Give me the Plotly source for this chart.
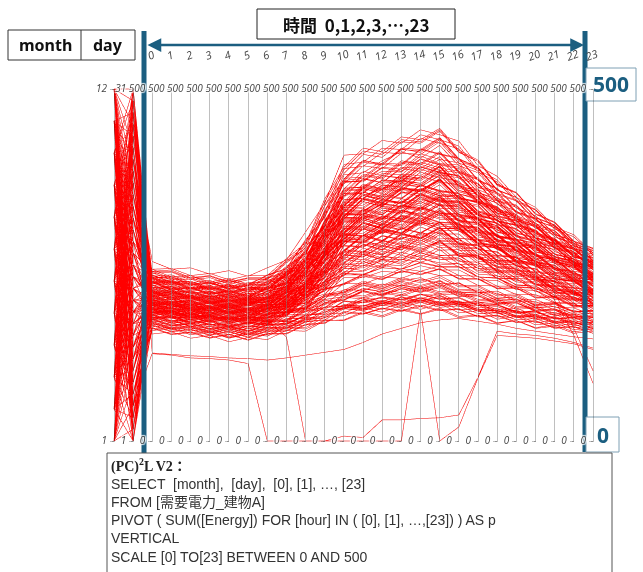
import plotly.graph_objects as go

# ---------------- data ----------------
# one row per day: (month, day, energy for hours 0..23)
rows = [
 (1,2,  [175,176,173,166,164,168,171,169,176,190,191,201,203,198,208,207,196,197,194,184,180,183,173,175]),
 (1,4,  [231,219,215,217,214,206,219,236,251,305,331,349,358,371,362,384,366,339,331,318,289,279,269,243]),
 (1,6,  [208,212,205,196,199,202,198,211,246,270,318,317,322,340,331,349,322,318,305,281,274,252,247,235]),
 (1,8,  [193,189,179,182,174,179,183,182,190,208,211,224,217,228,232,220,225,211,213,200,201,190,189,179]),
 (1,10, [244,233,235,224,229,221,236,245,286,317,378,381,398,411,402,420,391,381,350,341,312,305,278,268]),
 (1,12, [215,219,206,211,208,200,213,225,241,290,319,344,335,352,358,348,349,323,318,292,285,261,256,235]),
 (1,14, [236,224,227,216,221,219,218,241,258,311,357,355,366,370,389,381,377,349,341,315,306,282,272,249]),
 (1,16, [181,184,175,179,170,176,172,184,186,201,205,216,212,221,216,222,210,211,200,202,190,191,180,181]),
 (1,18, [211,200,204,199,191,196,202,206,238,257,302,304,319,316,331,323,320,299,293,271,266,245,240,221]),
 (1,20, [232,233,222,225,217,223,228,238,272,306,367,370,383,382,401,393,389,360,351,324,315,290,279,255]),
 (1,22, [227,215,217,209,213,204,217,223,256,296,326,349,344,360,357,371,346,340,323,299,292,269,261,240]),
 (1,24, [194,197,187,190,182,187,185,201,208,239,252,270,264,279,272,283,266,263,246,244,227,224,208,205]),
 (1,26, [219,209,211,202,206,199,210,215,246,271,321,322,336,333,349,340,338,316,309,286,280,258,251,232]),
 (1,28, [225,227,216,220,211,217,215,236,254,304,338,361,357,373,370,385,359,352,327,318,294,285,262,253]),
 (1,30, [176,167,170,162,166,159,168,167,179,180,194,192,200,196,204,197,199,189,191,181,183,174,176,166]),
 (2,1,  [218,220,210,213,204,210,209,229,244,294,324,349,341,360,354,370,344,339,312,307,283,276,253,246]),
 (2,3,  [239,229,230,221,226,217,231,239,276,306,369,368,388,383,405,394,392,361,353,325,317,290,281,256]),
 (2,5,  [178,181,171,175,167,172,169,182,183,199,201,214,207,219,212,220,206,209,196,199,186,188,177,178]),
 (2,7,  [217,207,209,200,204,196,208,213,245,266,317,317,333,327,346,335,335,311,306,282,277,255,249,229]),
 (2,9,  [202,204,194,197,189,194,193,211,223,264,287,310,301,320,313,328,305,303,279,276,254,249,229,225]),
 (2,11, [172,163,166,158,162,155,164,163,175,177,193,189,198,193,203,195,197,186,188,178,180,170,172,163]),
 (2,13, [226,228,217,221,212,218,216,239,256,309,340,365,358,378,372,390,362,356,329,322,296,288,264,256]),
 (2,15, [221,211,212,204,208,200,213,218,251,275,327,327,343,337,356,345,344,320,314,290,283,261,254,233]),
 (2,17, [240,241,231,234,225,231,230,255,274,334,372,399,392,415,410,428,398,387,356,346,318,307,281,271]),
 (2,19, [202,192,195,186,190,182,194,196,224,242,287,285,301,295,312,302,303,281,277,257,253,233,229,210]),
 (2,21, [183,186,176,180,172,177,174,187,188,205,208,221,214,225,219,227,213,214,202,205,192,194,183,184]),
 (2,23, [214,204,206,197,201,193,205,210,241,262,312,311,328,322,340,330,330,306,301,278,273,252,246,226]),
 (2,25, [221,223,213,216,207,212,212,232,248,299,330,354,346,366,361,377,351,345,319,313,288,280,257,250]),
 (2,27, [235,225,227,218,222,213,226,234,270,300,359,360,377,373,393,385,381,353,344,318,309,284,275,251]),
 (2,28, [203,205,195,199,190,196,194,212,224,265,288,311,303,321,315,330,306,304,280,277,255,250,230,226]),
 (3,1,  [204,194,197,188,192,184,195,199,228,246,292,291,307,300,317,307,308,285,281,260,256,236,232,213]),
 (3,3,  [211,213,202,206,197,203,202,221,234,280,306,329,322,340,334,349,325,321,296,292,268,263,241,237]),
 (3,5,  [179,169,172,164,168,161,170,170,184,187,204,202,210,206,215,208,209,197,198,187,189,178,179,169]),
 (3,7,  [193,195,186,189,180,186,185,202,212,251,271,293,285,303,295,310,288,286,264,262,241,238,218,215]),
 (3,9,  [225,214,217,208,212,203,216,222,256,281,334,335,351,345,364,355,352,327,320,296,289,266,259,238]),
 (3,11, [186,188,179,183,173,179,178,195,203,240,258,279,271,288,281,296,274,273,251,250,230,228,209,207]),
 (3,13, [168,159,162,154,158,151,160,160,173,175,191,188,196,193,200,193,195,184,186,176,178,168,170,160]),
 (3,15, [205,207,196,200,191,197,196,214,226,269,294,316,309,327,320,336,312,309,285,281,258,253,232,228]),
 (3,17, [219,209,211,202,207,198,210,215,248,270,322,322,338,333,351,341,340,316,310,287,281,259,253,232]),
 (3,19, [182,184,174,178,169,175,173,190,197,232,248,268,260,277,270,285,264,263,242,242,223,221,203,202]),
 (3,21, [174,165,168,160,164,157,166,166,179,182,198,196,204,200,208,201,203,192,193,182,184,173,175,165]),
 (3,23, [200,202,193,196,187,193,192,210,221,263,286,309,301,319,312,327,304,302,278,275,253,249,228,225]),
 (3,25, [201,191,193,185,189,181,192,195,225,242,287,285,301,295,312,302,303,280,277,256,252,233,229,210]),
 (3,27, [208,210,200,203,194,200,199,218,231,275,300,323,316,334,328,343,319,316,291,287,264,259,237,233]),
 (3,29, [183,174,176,168,173,165,175,177,201,213,252,248,263,257,274,263,265,245,244,226,224,207,205,188]),
 (3,31, [192,194,184,188,179,185,183,200,209,246,264,285,277,295,288,303,281,279,257,256,236,233,214,212]),
 (4,2,  [190,180,183,174,179,171,181,185,211,227,270,268,284,278,295,285,286,265,261,242,239,220,217,199]),
 (4,4,  [157,160,151,155,147,152,149,162,161,176,178,189,183,193,187,195,182,185,173,177,165,168,158,161]),
 (4,6,  [197,187,190,181,186,178,189,192,220,239,284,282,298,292,309,299,299,277,274,253,249,230,226,207]),
 (4,8,  [174,177,167,171,162,168,166,183,189,224,239,259,251,268,261,276,255,254,234,234,215,214,196,195]),
 (4,10, [202,192,194,186,191,182,193,197,226,246,294,292,308,303,320,311,310,287,283,262,257,238,233,214]),
 (4,12, [162,165,156,160,151,157,154,167,168,184,187,198,192,202,196,204,191,193,181,183,172,175,164,166]),
 (4,14, [187,178,180,172,176,168,179,182,207,222,264,261,277,271,288,278,279,258,255,236,233,215,212,194]),
 (4,16, [187,189,179,183,174,180,178,196,204,243,263,285,277,295,289,304,281,279,257,255,234,231,212,209]),
 (4,18, [207,197,199,190,195,187,198,202,232,253,302,301,317,312,330,320,319,296,291,269,264,243,238,219]),
 (4,20, [169,172,163,167,158,164,161,174,174,190,192,204,198,208,202,210,197,198,186,189,177,180,169,171]),
 (4,22, [184,174,177,168,173,165,175,178,203,217,258,254,270,264,281,271,272,252,249,231,229,211,209,191]),
 (4,24, [190,192,183,186,177,183,181,199,209,249,270,292,284,302,296,311,288,286,263,261,240,236,217,214]),
 (4,26, [160,151,154,146,151,143,152,152,165,167,182,180,188,184,191,185,187,176,178,168,170,160,162,153]),
 (4,28, [173,176,166,170,161,167,165,181,187,221,235,255,247,264,257,272,251,251,231,231,212,211,193,192]),
 (4,30, [165,156,159,151,156,148,157,157,170,172,188,186,193,189,197,190,192,181,183,172,174,164,166,156]),
 (5,1,  [165,168,159,163,154,160,157,170,170,186,188,200,194,204,198,206,193,195,183,185,174,176,166,168]),
 (5,3,  [161,152,155,147,152,144,153,153,166,168,184,181,189,185,193,186,188,177,179,169,171,161,163,153]),
 (5,5,  [159,162,153,157,148,154,151,164,164,180,182,193,187,197,191,199,186,188,176,179,168,171,161,163]),
 (5,7,  [188,178,181,172,177,169,180,183,209,225,268,265,281,275,293,283,283,262,258,239,236,217,214,196]),
 (5,9,  [193,195,185,189,180,185,184,202,213,255,278,301,294,313,308,324,300,297,273,270,248,244,224,221]),
 (5,11, [192,182,185,176,181,173,184,187,214,232,277,275,291,286,304,294,294,272,268,248,244,225,221,203]),
 (5,13, [200,202,192,196,186,192,191,210,223,269,296,320,314,334,330,346,321,315,290,286,263,257,236,232]),
 (5,15, [169,160,163,155,160,152,161,161,174,177,193,191,199,195,203,196,198,187,188,177,179,169,170,160]),
 (5,17, [175,178,168,172,163,169,167,184,191,228,245,266,258,276,270,285,263,262,241,241,222,220,202,200]),
 (5,19, [195,185,188,179,184,176,187,191,220,241,289,288,305,300,319,310,309,286,281,260,255,235,231,212]),
 (5,21, [197,199,189,193,184,189,188,207,219,264,290,314,307,327,322,338,313,309,285,281,258,253,232,228]),
 (5,23, [173,164,167,159,164,156,165,165,179,182,199,197,205,201,209,202,204,193,193,183,184,174,175,165]),
 (5,25, [183,185,176,179,170,176,174,192,201,240,261,283,275,294,288,303,280,278,256,254,234,231,212,210]),
 (5,27, [208,198,200,191,196,188,199,205,236,261,313,314,331,327,347,339,336,311,304,282,276,254,249,228]),
 (5,29, [179,182,172,176,167,173,171,188,196,234,253,274,266,284,278,293,271,270,248,247,228,226,207,205]),
 (5,31, [194,184,187,178,183,175,185,189,217,236,283,281,297,292,311,302,301,279,274,254,250,230,227,208]),
 (6,2,  [195,197,188,191,182,188,187,206,218,263,290,314,307,327,322,338,313,309,284,280,258,253,232,229]),
 (6,4,  [212,202,204,195,200,192,203,209,242,269,323,325,343,339,359,351,348,322,315,292,285,262,256,235]),
 (6,6,  [172,175,166,170,161,167,164,177,178,196,200,212,206,216,211,218,205,206,194,196,184,186,175,177]),
 (6,8,  [219,209,211,202,207,199,210,217,251,281,338,340,358,355,376,368,364,336,328,304,296,273,266,244]),
 (6,10, [199,201,192,195,186,192,191,210,223,269,297,321,315,335,330,347,321,316,291,286,263,258,236,232]),
 (6,12, [225,215,217,208,213,205,216,223,258,290,349,352,371,368,389,381,376,347,338,313,305,281,273,250]),
 (6,14, [180,183,173,177,168,174,171,185,187,206,212,225,219,230,225,232,219,219,206,207,194,196,184,185]),
 (6,16, [198,188,191,182,187,179,190,195,224,246,295,295,312,307,326,317,316,292,287,266,261,240,236,216]),
 (6,18, [209,211,201,204,195,201,200,220,236,286,318,343,337,357,354,371,345,338,312,306,282,275,253,247]),
 (6,20, [179,170,173,165,170,162,171,171,185,190,208,206,214,211,219,212,213,201,202,191,192,181,182,172]),
 (6,22, [202,204,195,198,189,195,194,213,227,274,303,327,321,341,337,354,328,323,297,292,269,263,241,237]),
 (6,24, [222,212,214,205,210,202,213,220,255,285,343,345,364,361,382,374,369,341,333,308,300,277,269,247]),
 (6,26, [197,199,190,193,184,190,189,208,221,267,295,319,312,332,327,343,318,314,289,285,262,257,236,232]),
 (6,28, [189,180,182,174,179,171,181,183,200,209,232,232,241,239,249,243,243,229,228,215,214,201,200,188]),
 (6,30, [210,212,202,205,196,202,201,221,237,287,319,345,339,359,356,373,346,339,313,307,283,276,254,248]),
 (7,1,  [232,222,224,215,220,212,224,232,269,305,370,373,393,391,414,407,401,370,358,331,320,293,284,259]),
 (7,3,  [238,240,229,232,223,229,229,253,274,335,380,407,403,425,423,440,410,397,364,353,323,311,284,274]),
 (7,5,  [201,192,194,186,191,183,193,194,211,221,245,246,256,254,264,258,257,242,240,226,224,210,208,195]),
 (7,7,  [232,234,223,226,217,223,223,246,266,326,369,396,392,414,412,430,400,388,356,346,317,306,280,270]),
 (7,9,  [227,217,219,210,215,207,218,226,261,294,356,358,377,374,396,388,383,353,342,316,307,282,274,251]),
 (7,11, [244,245,235,238,229,235,235,259,281,344,389,416,411,432,428,444,413,399,365,353,323,311,284,274]),
 (7,13, [205,195,198,189,194,186,196,198,215,226,251,252,262,260,270,264,263,248,245,231,229,214,212,199]),
 (7,15, [213,215,205,208,199,205,204,225,241,293,328,353,348,369,366,383,356,347,320,314,289,281,258,252]),
 (7,17, [241,231,232,223,228,220,232,241,280,319,387,390,410,408,430,423,415,382,368,340,328,301,290,264]),
 (7,19, [209,211,201,204,195,201,200,220,236,286,319,344,338,358,355,372,345,338,312,306,282,275,252,247]),
 (7,21, [233,223,225,216,221,213,224,233,269,304,368,370,389,386,408,400,395,364,353,326,316,290,281,257]),
 (7,23, [193,196,186,190,181,187,185,199,203,226,236,250,246,258,254,262,247,246,231,230,215,214,200,200]),
 (7,25, [255,244,246,237,242,234,246,257,297,338,406,408,427,423,442,435,426,391,376,346,332,304,293,267]),
 (7,27, [217,219,209,212,203,209,208,229,246,299,335,360,355,376,374,391,363,354,326,318,294,286,262,256]),
 (7,29, [236,226,227,218,223,215,227,235,272,308,373,375,395,393,415,408,402,371,359,331,320,294,284,259]),
 (7,31, [224,226,216,219,210,216,215,237,254,309,346,372,367,389,387,404,376,366,336,327,302,293,268,261]),
 (8,2,  [229,219,221,212,217,209,220,228,264,297,359,361,380,378,400,392,387,357,346,320,310,285,277,253]),
 (8,4,  [241,243,232,235,226,232,232,256,278,340,385,412,407,428,425,442,411,397,363,352,322,310,283,273]),
 (8,6,  [195,186,188,180,185,177,187,188,204,213,236,236,246,244,254,248,248,233,231,218,217,204,202,190]),
 (8,8,  [234,236,225,228,219,225,225,248,268,328,371,398,394,416,414,431,401,389,357,346,317,306,280,270]),
 (8,10, [221,211,213,204,209,201,212,219,253,284,343,344,363,360,382,374,369,340,332,307,299,275,268,246]),
 (8,12, [205,208,198,201,192,198,196,211,216,241,254,269,265,278,275,283,267,264,247,245,229,227,211,211]),
 (8,14, [202,193,195,187,192,184,194,195,212,223,248,249,258,257,267,261,260,245,242,228,226,212,210,197]),
 (8,16, [211,213,203,206,197,203,202,223,239,290,324,349,343,364,361,378,351,343,316,310,285,278,255,249]),
 (8,18, [244,233,235,226,231,223,235,245,284,324,393,396,416,414,435,428,419,385,371,342,329,301,290,265]),
 (8,20, [225,227,216,219,210,216,216,238,256,312,351,377,372,394,392,409,381,371,341,332,305,296,271,263]),
 (8,22, [214,204,206,197,202,194,205,211,245,273,329,330,348,344,364,356,352,325,318,295,288,265,259,237]),
 (8,24, [231,233,222,225,216,222,222,245,264,323,365,391,387,409,407,425,395,384,352,342,314,303,277,268]),
 (8,26, [207,197,200,191,196,188,199,204,236,262,316,316,334,330,350,342,339,313,306,284,278,256,250,230]),
 (8,28, [218,220,210,213,204,210,209,231,247,301,337,363,358,379,377,394,366,357,328,320,295,287,263,256]),
 (8,30, [198,188,191,182,187,179,189,190,207,217,241,241,251,249,259,253,252,237,235,222,220,207,205,193]),
 (8,31, [215,217,207,210,201,207,206,227,244,297,333,358,353,374,372,389,361,352,324,316,292,284,261,255]),
 (9,1,  [226,216,218,209,214,206,217,224,259,290,351,352,371,369,390,382,377,348,338,313,304,280,272,249]),
 (9,3,  [207,209,199,202,193,199,198,218,233,283,315,340,334,354,351,368,341,335,308,302,279,272,250,245]),
 (9,5,  [186,177,179,171,176,168,178,179,194,202,224,223,233,231,241,235,235,221,220,208,208,196,195,183]),
 (9,7,  [213,215,205,208,199,205,204,225,241,292,326,351,346,367,364,381,354,346,319,312,288,281,258,252]),
 (9,9,  [204,194,197,188,193,185,196,201,232,257,311,311,328,324,344,336,333,308,301,279,273,252,247,227]),
 (9,11, [227,229,218,221,212,218,218,240,258,314,353,379,374,396,394,411,382,372,342,334,307,298,273,265]),
 (9,13, [180,171,173,165,170,162,172,172,187,194,215,214,223,220,230,224,224,211,210,198,198,186,186,175]),
 (9,15, [202,204,195,198,189,195,194,213,227,275,306,330,324,344,340,357,331,325,299,294,271,266,244,239]),
 (9,17, [196,186,189,180,185,177,188,192,221,243,293,292,309,305,324,315,314,290,285,264,259,239,235,215]),
 (9,19, [183,186,176,180,171,177,175,190,193,215,224,237,233,245,241,249,235,234,220,220,206,206,192,193]),
 (9,21, [211,201,203,194,199,191,202,207,240,267,323,323,341,337,357,349,346,320,313,290,283,261,255,234]),
 (9,23, [169,172,162,166,157,163,161,174,175,194,200,213,208,219,214,222,208,209,196,197,184,186,173,176]),
 (9,25, [200,190,193,184,189,181,192,196,226,249,300,300,317,313,332,323,322,297,292,270,265,244,240,220]),
 (9,27, [210,212,202,205,196,202,201,221,236,287,320,345,339,359,356,373,346,339,313,306,283,276,253,248]),
 (9,29, [192,183,185,177,182,174,184,188,216,236,285,283,300,295,314,305,304,281,276,255,251,231,228,209]),
 (10,2, [184,186,177,180,171,177,175,193,201,240,261,283,275,293,287,302,279,277,255,252,233,230,210,208]),
 (10,4, [164,155,158,150,155,147,156,156,169,172,188,185,193,189,197,190,192,181,182,172,174,164,166,156]),
 (10,6, [176,178,169,172,163,169,167,184,191,227,245,265,257,275,268,283,262,261,240,239,221,219,201,200]),
 (10,8, [196,186,189,180,185,177,188,191,219,238,285,283,299,294,312,302,302,279,275,255,251,231,227,209]),
 (10,10,[165,168,159,163,154,160,157,170,170,186,189,201,195,205,199,206,194,196,184,186,175,177,167,169]),
 (10,12,[177,168,170,162,167,159,169,171,195,207,246,242,258,251,268,258,260,240,239,221,220,203,201,185]),
 (10,14,[196,198,189,192,183,189,188,206,217,259,283,306,298,317,311,327,303,300,276,272,251,247,227,224]),
 (10,16,[186,176,179,170,175,167,177,180,206,222,265,262,278,272,290,280,281,259,256,237,234,216,213,195]),
 (10,18,[152,155,146,150,141,147,144,157,156,171,172,184,178,188,181,189,177,179,168,171,160,163,153,156]),
 (10,20,[193,183,186,177,182,174,184,188,215,233,278,276,292,286,304,294,294,272,269,249,245,226,223,204]),
 (10,22,[200,202,193,196,187,193,192,210,222,266,291,314,306,325,319,335,311,307,283,279,258,253,232,228]),
 (10,24,[173,164,166,158,163,155,165,167,190,201,239,235,250,244,261,250,252,233,232,215,214,197,196,180]),
 (10,26,[182,184,175,178,169,175,173,191,199,238,258,280,272,290,284,299,276,274,252,250,231,228,209,207]),
 (10,28,[167,158,161,153,158,150,159,159,172,175,191,189,197,193,201,194,196,185,186,176,177,167,169,159]),
 (10,30,[193,195,186,189,180,186,185,203,214,256,279,302,294,312,306,322,298,295,272,268,248,244,224,221]),
 (10,31,[184,175,177,169,174,166,176,179,204,219,261,257,273,267,285,275,276,255,253,234,232,214,211,194]),
 (11,1, [188,190,181,184,175,181,180,197,207,248,269,291,283,302,295,311,288,285,263,260,240,236,217,214]),
 (11,3, [173,164,167,159,164,156,165,165,178,182,199,197,205,201,209,202,204,193,194,183,185,174,176,166]),
 (11,5, [195,197,188,191,182,188,187,205,216,258,282,304,296,315,309,324,301,298,275,271,250,246,226,223]),
 (11,7, [207,197,200,191,196,188,199,203,233,255,305,304,320,315,333,324,323,299,294,272,267,246,241,221]),
 (11,9, [174,177,168,172,163,169,166,179,180,197,200,212,206,217,211,218,205,207,195,197,185,187,176,178]),
 (11,11,[189,179,182,173,178,170,180,184,210,227,272,269,285,280,297,287,288,266,263,243,240,221,218,200]),
 (11,13,[206,208,198,201,192,198,197,216,229,274,301,324,317,336,330,346,321,317,292,287,265,260,238,234]),
 (11,15,[198,188,191,182,187,179,190,193,222,241,288,286,302,296,314,305,304,282,278,257,253,233,229,211]),
 (11,17,[178,181,172,176,167,173,170,183,184,201,205,217,212,222,217,224,211,212,199,201,189,191,180,181]),
 (11,19,[215,205,207,198,203,195,206,212,244,269,321,321,338,333,352,343,341,316,310,287,281,259,253,232]),
 (11,21,[197,199,190,193,184,190,189,207,219,262,287,310,302,321,315,330,307,303,279,275,254,249,229,225]),
 (11,23,[179,170,173,165,170,162,171,171,185,189,206,204,212,208,217,210,211,199,200,189,190,179,180,170]),
 (11,25,[212,214,204,207,198,204,203,223,238,286,316,340,333,353,348,364,339,333,307,301,278,272,249,244]),
 (11,27,[206,196,199,190,195,187,198,202,233,255,305,304,320,315,333,324,323,299,294,272,267,246,241,221]),
 (11,29,[182,185,175,179,170,176,174,187,188,206,210,222,216,227,221,228,215,216,203,205,193,195,183,185]),
 (12,2, [217,207,209,200,205,197,208,214,245,269,321,321,337,332,350,341,339,315,309,286,280,258,252,231]),
 (12,4, [223,225,215,218,209,215,214,235,251,301,334,359,351,371,366,383,356,350,323,316,292,284,261,254]),
 (12,6, [199,190,192,184,189,181,191,192,208,216,238,237,246,244,253,247,247,233,232,219,218,205,204,192]),
 (12,8, [229,231,221,224,215,221,221,243,260,313,348,373,367,387,383,400,373,365,336,327,302,293,268,260]),
 (12,10,[222,212,214,205,210,202,213,219,252,278,332,332,348,344,363,354,351,326,318,295,288,265,258,236]),
 (12,12,[187,190,180,184,175,181,179,193,195,215,222,234,229,241,236,244,230,230,216,217,203,204,190,192]),
 (12,14,[227,217,219,210,215,207,218,225,259,287,343,344,361,357,376,368,364,338,330,306,298,274,267,244]),
 (12,16,[234,236,225,228,219,225,225,248,266,321,358,383,377,398,394,411,383,374,345,335,309,299,274,265]),
 (12,18,[213,203,205,196,201,193,204,210,241,264,315,314,331,325,344,334,333,309,303,281,275,254,248,228]),
 (12,20,[182,185,175,179,170,176,174,187,189,208,214,227,221,232,227,235,221,221,208,209,196,197,184,186]),
 (12,22,[231,221,223,214,219,211,222,230,264,294,352,353,370,366,386,378,374,347,338,313,305,280,272,249]),
 (12,24,[202,204,194,197,188,194,193,212,224,268,294,317,309,328,322,338,314,310,286,281,260,255,234,230]),
 (12,26,[219,209,211,202,207,199,210,216,248,273,326,326,343,338,357,348,346,321,314,291,284,262,256,234]),
 (12,28,[189,192,182,186,177,183,181,194,196,216,223,236,230,242,237,245,231,231,217,218,204,205,191,193]),
 (12,30,[170,161,164,156,161,153,162,161,173,175,190,187,195,191,199,192,194,184,185,175,177,167,169,160]),
 (12,31,[157,160,151,155,146,152,149,161,159,172,171,182,176,186,180,187,175,178,167,171,161,165,155,159]),
 (4,29, [124,122,118,117,115,110,0,0,0,0,7,5,30,30,32,33,37,91,156,152,150,146,140,132]),
 (8,13, [186,182,178,176,174,173,170,148,0,0,0,0,0,0,186,0,20,90,150,148,146,142,138,130]),
 (5,4,  [125,123,121,120,118,117,115,118,122,126,130,140,152,160,168,172,174,170,166,160,156,152,148,145]),
 (10,11,[188,184,180,177,175,174,179,190,208,236,268,278,282,288,294,296,286,274,262,250,238,200,150,82]),
 (2,12, [196,192,188,185,183,182,187,198,218,248,282,292,296,302,308,310,298,286,272,260,248,210,160,100]),
]

months = [r[0] for r in rows]
days = [r[1] for r in rows]
energy = [r[2] for r in rows]

hour_labels = [str(h) for h in range(24)]
month_ticks = [1, 12]
day_ticks = [1, 31]
energy_ticks = [0, 500]

# ---------------- figure ----------------
W, H = 643, 572
ML, MR, MT, MB = 114, 50, 87, 129
PW, PH = W - ML - MR, H - MT - MB

def px(x):
    return (x - ML) / PW

def py(y):
    return (H - MB - y) / PH

BLUE = "#1b5e80"

dims = [
    dict(label="", values=months, range=[1, 12], tickvals=month_ticks),
    dict(label="", values=days, range=[1, 31], tickvals=day_ticks),
]
for h, lab in enumerate(hour_labels):
    dims.append(dict(label=lab, values=[row[h] for row in energy],
                     range=[0, 500], tickvals=energy_ticks))

fig = go.Figure(go.Parcoords(
    dimensions=dims,
    line=dict(color=[0] * len(energy),
              colorscale=[[0, "rgba(255,0,0,0.65)"], [1, "rgba(255,0,0,0.65)"]],
              showscale=False),
    labelfont=dict(family="Open Sans", size=11, color="#444", style="italic"),
    tickfont=dict(family="Open Sans", size=10, color="#444", style="italic"),
    rangefont=dict(size=1, color="rgba(0,0,0,0)"),
    labelangle=-20,
    domain=dict(x=[0, 1], y=[0, 1]),
))

shapes = []
shapes.append(dict(type="rect", xref="paper", yref="paper", x0=px(141.5), x1=px(146.5),
                   y0=py(455), y1=py(31), fillcolor=BLUE, line=dict(width=0)))
shapes.append(dict(type="rect", xref="paper", yref="paper", x0=px(582.5), x1=px(587.5),
                   y0=py(452), y1=py(31), fillcolor=BLUE, line=dict(width=0)))
shapes.append(dict(type="rect", xref="paper", yref="paper", x0=px(257), x1=px(455),
                   y0=py(39), y1=py(9), fillcolor="white", line=dict(color="#222", width=1)))
shapes.append(dict(type="rect", xref="paper", yref="paper", x0=px(8), x1=px(135),
                   y0=py(60), y1=py(30), fillcolor="white", line=dict(color="#333", width=1)))
shapes.append(dict(type="line", xref="paper", yref="paper", x0=px(81), x1=px(81),
                   y0=py(60), y1=py(30), line=dict(color="#333", width=1)))
shapes.append(dict(type="rect", xref="paper", yref="paper", x0=px(586), x1=px(636),
                   y0=py(101), y1=py(68), fillcolor="white", line=dict(color="#7fa0b4", width=1)))
shapes.append(dict(type="rect", xref="paper", yref="paper", x0=px(586), x1=px(619),
                   y0=py(452), y1=py(417), fillcolor="white", line=dict(color="#7fa0b4", width=1)))
shapes.append(dict(type="rect", xref="paper", yref="paper", x0=px(107), x1=px(612),
                   y0=py(590), y1=py(453), fillcolor="white", line=dict(color="#555", width=1)))

def note(x, y, text, size, color, family, xanchor="center"):
    return dict(xref="paper", yref="paper", x=px(x), y=py(y), xanchor=xanchor,
                yanchor="middle", showarrow=False, text=text,
                font=dict(family=family, size=size, color=color))

ann = []
ann.append(dict(xref="paper", yref="paper", x=px(584), y=py(45), ax=-438, ay=0,
                text="", showarrow=True, arrowhead=2, arrowside="end+start",
                arrowsize=1.1, arrowwidth=2.5, arrowcolor=BLUE, standoff=0, startstandoff=0))
ann.append(note(356, 24, "<b>時間  0,1,2,3,…,23</b>", 17, "#111", "Noto Sans CJK JP"))
ann.append(note(45, 45, "<b>month</b>", 16, "#111", "Noto Sans"))
ann.append(note(108, 45, "<b>day</b>", 16, "#111", "Noto Sans"))
ann.append(note(611, 84.5, "<b>500</b>", 21, BLUE, "Noto Sans"))
ann.append(note(602.5, 434.5, "<b>0</b>", 21, BLUE, "Noto Sans"))
ann.append(note(109, 465, "<b>(PC)<sup>2</sup>L V2：</b>", 14, "#222",
                "Liberation Serif, Noto Sans CJK JP", xanchor="left"))
query_lines = [
    "SELECT  [month],  [day],  [0], [1], …, [23]",
    "FROM [需要電力_建物A]",
    "PIVOT ( SUM([Energy]) FOR [hour] IN ( [0], [1], …,[23]) ) AS p",
    "VERTICAL",
    "SCALE [0] TO[23] BETWEEN 0 AND 500",
]
for i, t in enumerate(query_lines):
    ann.append(note(109, 483.5 + 18.3 * i, t, 14, "#333",
                    "Liberation Sans, Noto Sans CJK JP", xanchor="left"))

fig.update_layout(
    width=W, height=H,
    margin=dict(l=ML, r=MR, t=MT, b=MB),
    paper_bgcolor="white", plot_bgcolor="white",
    shapes=shapes, annotations=ann,
    font=dict(family="Open Sans"),
)

fig.write_html("out.html")
